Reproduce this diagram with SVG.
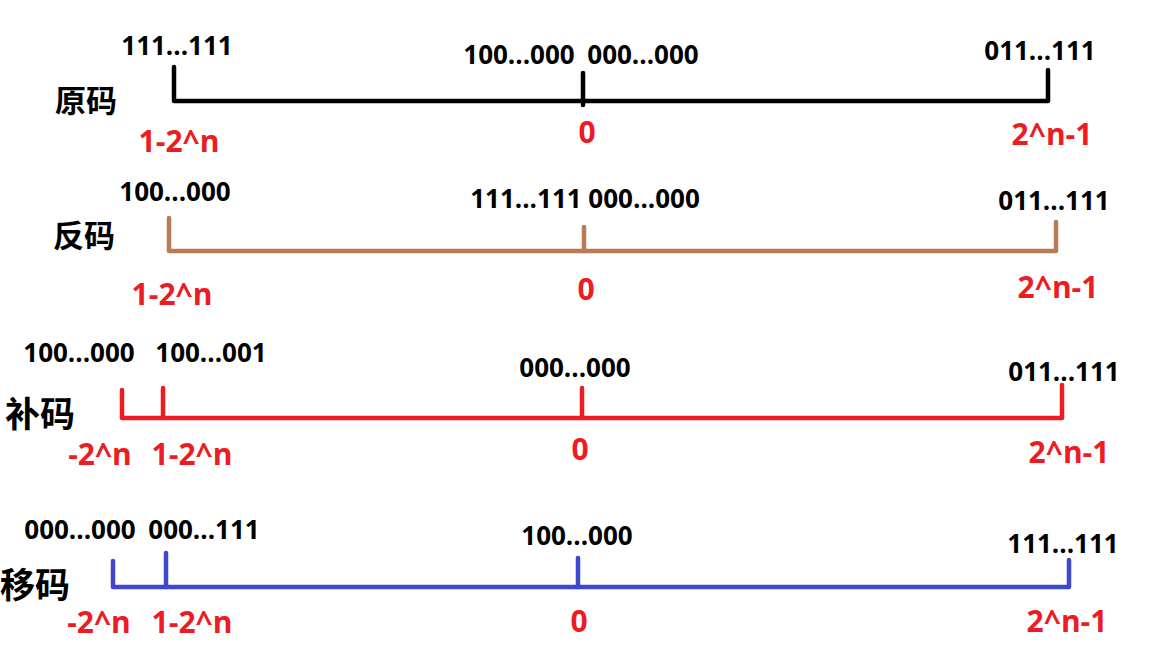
<svg xmlns="http://www.w3.org/2000/svg" width="1152" height="648" viewBox="0 0 1152 648">
<style>
.bin{font-family:"Open Sans","Liberation Sans",sans-serif;font-weight:700;font-size:26px;fill:#000;text-anchor:middle}
.val{font-family:"Open Sans","Liberation Sans",sans-serif;font-weight:700;font-size:30px;fill:#ed1c24;text-anchor:middle}
.cn{font-family:"Noto Sans CJK SC","Noto Sans",sans-serif;font-weight:700;fill:#000;text-anchor:middle}
.ln{fill:none;stroke-width:4.5;stroke-linecap:round;stroke-linejoin:round}
</style>
<rect width="1152" height="648" fill="#fff"/>
<g id="connectors">
  <g id="axis-yuanma" class="ln" stroke="#000">
    <path d="M174,67 V101 H1048 V70"/>
    <path d="M583,73 V105"/>
  </g>
  <g id="axis-fanma" class="ln" stroke="#b97a57">
    <path d="M169,218 V251 H1056 V222"/>
    <path d="M584,227 V251"/>
  </g>
  <g id="axis-buma" class="ln" stroke="#ed1c24">
    <path d="M122,390 V418 H1062 V385"/>
    <path d="M163,388 V418"/>
    <path d="M582,388 V418"/>
  </g>
  <g id="axis-yima" class="ln" stroke="#3f48cc">
    <path d="M113,561 V587 H1069 V560"/>
    <path d="M166,553 V587"/>
    <path d="M578,558 V587"/>
  </g>
</g>
<g id="row-yuanma">
  <text class="cn" x="86" y="112" font-size="31">原码</text>
  <text class="bin" x="177" y="55">111...111</text>
  <text class="bin" x="519" y="64">100...000</text>
  <text class="bin" x="643" y="64">000...000</text>
  <text class="bin" x="1040" y="60">011...111</text>
  <text class="val" x="179" y="152">1-2^n</text>
  <text class="val" x="587" y="143">0</text>
  <text class="val" x="1052" y="145">2^n-1</text>
</g>
<g id="row-fanma">
  <text class="cn" x="84" y="247" font-size="31">反码</text>
  <text class="bin" x="585" y="208">111...111 000...000</text>
  <text class="bin" x="175" y="201">100...000</text>
  <text class="bin" x="1054" y="210">011...111</text>
  <text class="val" x="172" y="305">1-2^n</text>
  <text class="val" x="586" y="300">0</text>
  <text class="val" x="1058" y="298">2^n-1</text>
</g>
<g id="row-buma">
  <text class="cn" x="40" y="427" font-size="35">补码</text>
  <text class="bin" x="79" y="362">100...000</text>
  <text class="bin" x="211" y="362">100...001</text>
  <text class="bin" x="575" y="377">000...000</text>
  <text class="bin" x="1064" y="381">011...111</text>
  <text class="val" x="100" y="465">-2^n</text>
  <text class="val" x="192" y="465">1-2^n</text>
  <text class="val" x="580" y="460">0</text>
  <text class="val" x="1069" y="463">2^n-1</text>
</g>
<g id="row-yima">
  <text class="cn" x="35" y="598" font-size="35">移码</text>
  <text class="bin" x="80" y="539">000...000</text>
  <text class="bin" x="204" y="539">000...111</text>
  <text class="bin" x="577" y="545">100...000</text>
  <text class="bin" x="1063" y="553">111...111</text>
  <text class="val" x="99" y="633">-2^n</text>
  <text class="val" x="192" y="633">1-2^n</text>
  <text class="val" x="579" y="632">0</text>
  <text class="val" x="1067" y="632">2^n-1</text>
</g>
</svg>
